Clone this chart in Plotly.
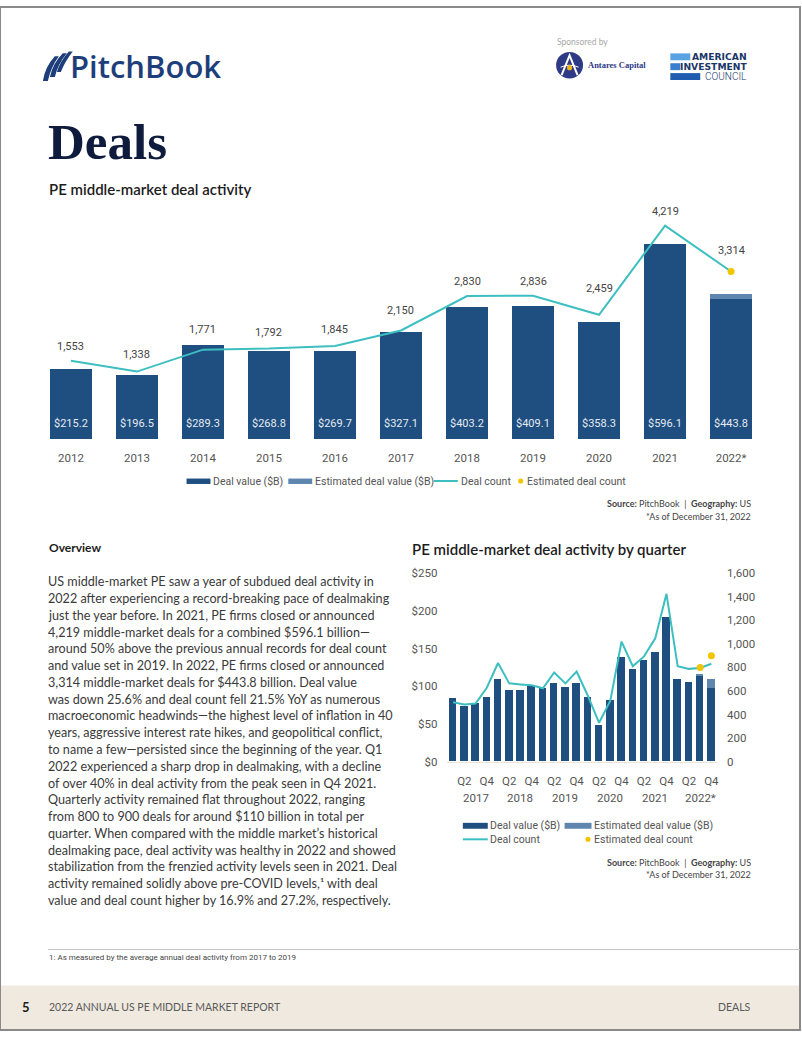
import plotly.graph_objects as go

W, H = 802, 1037

# ---------------- data ----------------
years = ["2012", "2013", "2014", "2015", "2016", "2017", "2018", "2019", "2020", "2021", "2022*"]
deal_value = [215.2, 196.5, 289.3, 268.8, 269.7, 327.1, 403.2, 409.1, 358.3, 596.1, 430.0]
est_deal_value = [0, 0, 0, 0, 0, 0, 0, 0, 0, 0, 13.8]
deal_count = [1553, 1338, 1771, 1792, 1845, 2150, 2830, 2836, 2459, 4219, 3314]
est_deal_count = [None, None, None, None, None, None, None, None, None, None, 3314]

q_tick_labels = ["Q2", "Q4"] * 6
q_years = ["2017", "2018", "2019", "2020", "2021", "2022*"]
q_value = [84, 74, 78, 86, 110, 95, 95, 100, 97, 104, 99, 104,
           86, 48, 82, 139, 122, 135, 145, 192, 110, 105, 113, 98]
q_est_value = [0] * 22 + [3, 11]
q_count = [505, 486, 494, 628, 838, 665, 656, 648, 623, 757, 665, 765,
           560, 330, 517, 1020, 810, 894, 1047, 1425, 810, 788, 796, 832]
q_est_count = [None] * 22 + [800, 900]

paragraph = [
    "US middle-market PE saw a year of subdued deal activity in",
    "2022 after experiencing a record-breaking pace of dealmaking",
    "just the year before. In 2021, PE firms closed or announced",
    "4,219 middle-market deals for a combined $596.1 billion—",
    "around 50% above the previous annual records for deal count",
    "and value set in 2019. In 2022, PE firms closed or announced",
    "3,314 middle-market deals for $443.8 billion. Deal value",
    "was down 25.6% and deal count fell 21.5% YoY as numerous",
    "macroeconomic headwinds—the highest level of inflation in 40",
    "years, aggressive interest rate hikes, and geopolitical conflict,",
    "to name a few—persisted since the beginning of the year. Q1",
    "2022 experienced a sharp drop in dealmaking, with a decline",
    "of over 40% in deal activity from the peak seen in Q4 2021.",
    "Quarterly activity remained flat throughout 2022, ranging",
    "from 800 to 900 deals for around $110 billion in total per",
    "quarter. When compared with the middle market’s historical",
    "dealmaking pace, deal activity was healthy in 2022 and showed",
    "stabilization from the frenzied activity levels seen in 2021. Deal",
    "activity remained solidly above pre-COVID levels,¹ with deal",
    "value and deal count higher by 16.9% and 27.2%, respectively.",
]

# ---------------- styles ----------------
NAVY = "#1F4E80"
LIGHT = "#5F86AF"
TEAL = "#3DBFC1"
YELLOW = "#F2C500"
NARROW = "Roboto, sans-serif"
BODY = "Lato, sans-serif"
GRAY = "#555555"
count_label_gap = [12, 15, 18, 14, 14, 17, 12, 12, 24, 12, 18]


def px(x):
    return x / W


def py(y):
    return 1 - y / H


shapes = []
annotations = []


def rect(x0, y0, x1, y1, color):
    shapes.append(dict(type="rect", xref="paper", yref="paper",
                       x0=px(x0), x1=px(x1), y0=py(y1), y1=py(y0),
                       fillcolor=color, line=dict(width=0), layer="above"))


def hline(x0, x1, y, color, width=1):
    shapes.append(dict(type="line", xref="paper", yref="paper",
                       x0=px(x0), x1=px(x1), y0=py(y), y1=py(y),
                       line=dict(color=color, width=width), layer="above"))


def circle(cx, cy, r, color):
    shapes.append(dict(type="circle", xref="paper", yref="paper",
                       x0=px(cx - r), x1=px(cx + r), y0=py(cy + r), y1=py(cy - r),
                       fillcolor=color, line=dict(width=0), layer="above"))


def path(cmds, color, line_color=None, lw=0):
    out = []
    for c in cmds:
        if isinstance(c, str):
            out.append(c)
        else:
            out.append(f"{px(c[0]):.5f},{py(c[1]):.5f}")
    shapes.append(dict(type="path", xref="paper", yref="paper", path=" ".join(out),
                       fillcolor=color, line=dict(width=lw, color=line_color or color),
                       layer="above"))


def text(x, y, s, size, color, family=BODY, xanchor="left", yanchor="middle", weight=None):
    f = dict(size=size, color=color, family=family)
    if weight:
        f["weight"] = weight
    annotations.append(dict(xref="paper", yref="paper", x=px(x), y=py(y), text=s,
                            showarrow=False, xanchor=xanchor, yanchor=yanchor,
                            font=f, borderpad=0))


# ---------------- figure ----------------
fig = go.Figure()
xs = list(range(len(years)))
qx = list(range(len(q_value)))

fig.add_trace(go.Bar(x=xs, y=deal_value, marker=dict(color=NAVY, line=dict(width=0)),
                     width=0.63, xaxis="x", yaxis="y", showlegend=False, hoverinfo="skip"))
fig.add_trace(go.Bar(x=xs, y=est_deal_value, marker=dict(color=LIGHT, line=dict(width=0)),
                     width=0.63, xaxis="x", yaxis="y", showlegend=False, hoverinfo="skip"))
fig.add_trace(go.Scatter(x=xs, y=deal_count, mode="lines", line=dict(color=TEAL, width=2),
                         xaxis="x", yaxis="y2", showlegend=False, hoverinfo="skip"))
fig.add_trace(go.Scatter(x=xs, y=est_deal_count, mode="markers",
                         marker=dict(color=YELLOW, size=7), xaxis="x", yaxis="y2",
                         showlegend=False, hoverinfo="skip"))

fig.add_trace(go.Bar(x=qx, y=q_value, marker=dict(color=NAVY, line=dict(width=0)),
                     width=0.67, xaxis="x2", yaxis="y3", showlegend=False, hoverinfo="skip"))
fig.add_trace(go.Bar(x=qx, y=q_est_value, marker=dict(color=LIGHT, line=dict(width=0)),
                     width=0.67, xaxis="x2", yaxis="y3", showlegend=False, hoverinfo="skip"))
fig.add_trace(go.Scatter(x=qx, y=q_count, mode="lines", line=dict(color=TEAL, width=2),
                         xaxis="x2", yaxis="y4", showlegend=False, hoverinfo="skip"))
fig.add_trace(go.Scatter(x=qx, y=q_est_count, mode="markers",
                         marker=dict(color=YELLOW, size=7), xaxis="x2", yaxis="y4",
                         showlegend=False, hoverinfo="skip"))

for i in xs:
    total = deal_value[i] + est_deal_value[i]
    annotations.append(dict(xref="x", yref="y", x=i, y=0, yanchor="bottom", yshift=7,
                            text=f"${total:.1f}", showarrow=False,
                            font=dict(family=NARROW, size=11, color="#E4EAF1")))
    annotations.append(dict(xref="x", yref="y2", x=i, y=deal_count[i], yanchor="bottom",
                            yshift=count_label_gap[i] - 6, text=f"{deal_count[i]:,}",
                            showarrow=False, font=dict(family=NARROW, size=11, color="#444444")))

for k, yl in enumerate(q_years):
    annotations.append(dict(xref="x2", yref="paper", x=2 + 4 * k, y=py(802), yanchor="middle",
                            text=yl, showarrow=False,
                            font=dict(family=NARROW, size=11.5, color=GRAY)))

# ---------------- page decoration ----------------
shapes.append(dict(type="rect", xref="paper", yref="paper", x0=0, x1=1, y0=0, y1=py(992),
                   fillcolor="#EFE9DF", line=dict(width=0), layer="below"))
shapes.append(dict(type="rect", xref="paper", yref="paper", x0=0, x1=1, y0=0, y1=1,
                   line=dict(color="#8a8a8a", width=2), layer="above"))

# PitchBook logo
PB = "#1E3E7B"
path(["M", (43, 75), "Q", (45, 61), (55, 50), "L", (59, 50), "Q", (51, 61), (48, 75), "Z"], PB)
path(["M", (50, 71), "Q", (53, 57), (63, 47), "L", (67, 47), "Q", (58, 58), (55, 71), "Z"], PB)
path(["M", (57, 66), "Q", (60, 55), (69, 45), "L", (73, 45), "Q", (65, 55), (61, 66), "Z"], PB)
text(69, 60, "PitchBook", 31, PB, family="Open Sans, sans-serif", weight=600)

# sponsors
text(557, 35, "Sponsored by", 8.5, "#A8A8A8")
circle(571, 59, 13.5, "#2E3A86")
path(["M", (563, 69), "L", (571, 49), "L", (579, 69)], "rgba(0,0,0,0)", "white", 2)
path(["M", (562, 61), "Q", (571, 57), (580, 61)], "rgba(0,0,0,0)", "white", 1)
circle(571, 61.5, 2.6, "#F2B619")
text(588, 58.5, "Antares Capital", 8.5, "#2E3A86", family="Liberation Serif, serif", weight="bold")

rect(672, 47, 692, 54, "#5AA3E3")
rect(672, 57, 682, 64, "#3A7FCF")
rect(672, 67, 702, 74, "#1F5CB0")
text(750, 50.5, "AMERICAN", 9.2, "#1B3767", family="DejaVu Sans, sans-serif",
     xanchor="right", weight="bold")
text(750, 60.5, "INVESTMENT", 9.2, "#1B3767", family="DejaVu Sans, sans-serif",
     xanchor="right", weight="bold")
text(750, 70.5, "COUNCIL", 10, "#1B3767", family="Roboto, sans-serif",
     xanchor="right", weight=300)

# headings
text(47, 137, "Deals", 51, "#0E1B3D", family="Liberation Serif, serif", weight="bold")
text(48, 184, "PE middle-market deal activity", 15, "#1C1C1C", family=BODY, weight=600)

# annual legend
rect(187, 478, 211, 483.5, NAVY)
text(213, 480.5, "Deal value ($B)", 10.5, GRAY, family=NARROW)
rect(289, 478, 313, 483.5, LIGHT)
text(315, 480.5, "Estimated deal value ($B)", 10.5, GRAY, family=NARROW)
hline(435, 459, 480.5, TEAL, 2)
text(461, 480.5, "Deal count", 10.5, GRAY, family=NARROW)
circle(522, 480.5, 2.6, YELLOW)
text(527, 480.5, "Estimated deal count", 10.5, GRAY, family=NARROW)

text(754, 503, "<b>Source:</b> PitchBook  |  <b>Geography:</b> US", 9, "#444444", xanchor="right")
text(754, 516, "*As of December 31, 2022", 9, "#444444", xanchor="right")

# overview text
text(48, 548, "Overview", 12, "#1C1C1C", weight="bold")
for i, line in enumerate(paragraph):
    text(47, 582.7 + i * 17.0, line, 12.6, "#3A3A3A")

# quarterly chart title + legend
text(412, 549, "PE middle-market deal activity by quarter", 15, "#1C1C1C", weight=600)
rect(464, 827, 489, 833, NAVY)
text(490, 830, "Deal value ($B)", 10.5, GRAY, family=NARROW)
rect(566, 827, 593, 833, LIGHT)
text(594, 830, "Estimated deal value ($B)", 10.5, GRAY, family=NARROW)
hline(464, 489, 843.7, TEAL, 2)
text(490, 843.7, "Deal count", 10.5, GRAY, family=NARROW)
circle(589.5, 843.7, 2.6, YELLOW)
text(594, 843.7, "Estimated deal count", 10.5, GRAY, family=NARROW)
text(754, 867, "<b>Source:</b> PitchBook  |  <b>Geography:</b> US", 9, "#444444", xanchor="right")
text(754, 879, "*As of December 31, 2022", 9, "#444444", xanchor="right")

# footnote
hline(48, 802, 955.5, "#C4C4C4", 1)
text(48, 963.5, "1: As measured by the average annual deal activity from 2017 to 2019", 8,
     "#444444", family=NARROW)

# footer
text(21, 1014, "5", 13, "#1C1C1C", weight="bold")
text(48, 1014, "2022 ANNUAL US PE MIDDLE MARKET REPORT", 10.5, "#5A5A5A")
text(754, 1014, "DEALS", 10.5, "#5A5A5A", xanchor="right")

fig.update_layout(
    width=W, height=H, margin=dict(l=0, r=0, t=0, b=0),
    paper_bgcolor="white", plot_bgcolor="rgba(0,0,0,0)",
    barmode="stack", bargap=0, showlegend=False,
    shapes=shapes, annotations=annotations,
    xaxis=dict(domain=[px(38), px(766)], range=[-0.5, 10.5], anchor="y",
               tickmode="array", tickvals=xs, ticktext=years, ticks="",
               showgrid=False, zeroline=False, showline=False, ticklabelstandoff=10,
               tickfont=dict(family=NARROW, size=11.5, color=GRAY)),
    yaxis=dict(domain=[py(438.3), py(200)], range=[0, 720], visible=False, anchor="x"),
    yaxis2=dict(overlaying="y", range=[0, 4640], visible=False, anchor="x"),
    xaxis2=dict(domain=[px(448.6), px(718.8)], range=[-0.5, 23.5], anchor="y3",
                tickmode="array", tickvals=[1 + 2 * k for k in range(12)], ticktext=q_tick_labels,
                ticks="", showgrid=False, zeroline=False, showline=True,
                linecolor="#E8E2D8", linewidth=1, ticklabelstandoff=9,
                tickfont=dict(family=NARROW, size=11.5, color=GRAY)),
    yaxis3=dict(domain=[py(765), py(574)], range=[0, 250], anchor="x2",
                tickmode="array", tickvals=[0, 50, 100, 150, 200, 250],
                ticktext=["$0", "$50", "$100", "$150", "$200", "$250"],
                ticks="", showgrid=False, zeroline=False, showline=False, ticklabelstandoff=9,
                tickfont=dict(family=NARROW, size=11.5, color=GRAY)),
    yaxis4=dict(overlaying="y3", side="right", range=[0, 1600], anchor="x2",
                tickmode="array", tickvals=[0, 200, 400, 600, 800, 1000, 1200, 1400, 1600],
                tickformat=",", ticks="", showgrid=False, zeroline=False, showline=False,
                ticklabelstandoff=9, tickfont=dict(family=NARROW, size=11.5, color=GRAY)),
)

fig.write_html("out.html")
